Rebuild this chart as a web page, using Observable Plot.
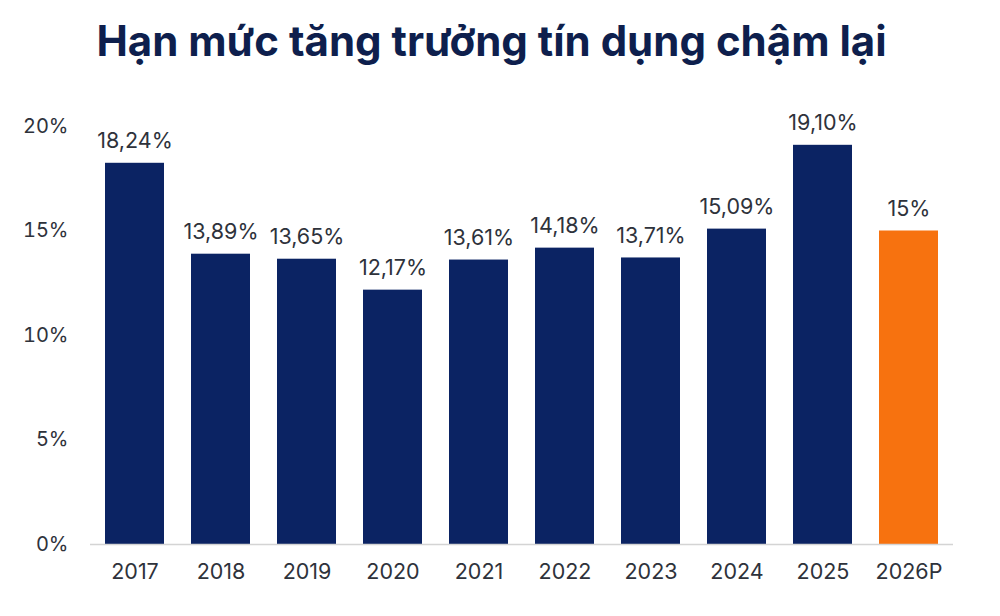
<!DOCTYPE html>
<html>
<head>
<meta charset="utf-8">
<script src="https://cdn.jsdelivr.net/npm/d3@7"></script>
<script src="https://cdn.jsdelivr.net/npm/@observablehq/plot@0.6"></script>
<style>
  html, body { margin: 0; padding: 0; background: #ffffff; }
  body { width: 1000px; height: 616px; overflow: hidden; font-family: Inter, "Noto Sans", sans-serif; }
  #title { height: 90px; box-sizing: border-box; padding-top: 16px; padding-right: 17px; text-align: center; font-size: 42px; font-weight: 700; color: #0e1f4d; line-height: 50px; white-space: nowrap; }
</style>
</head>
<body>
<div id="title">Hạn mức tăng trưởng tín dụng chậm lại</div>
<div id="chart"></div>
<script>
const years = ["2017", "2018", "2019", "2020", "2021", "2022", "2023", "2024", "2025", "2026P"];
const values = [18.24, 13.89, 13.65, 12.17, 13.61, 14.18, 13.71, 15.09, 19.10, 15];
const valueLabels = ["18,24%", "13,89%", "13,65%", "12,17%", "13,61%", "14,18%", "13,71%", "15,09%", "19,10%", "15%"];
const kinds = ["Thực hiện", "Thực hiện", "Thực hiện", "Thực hiện", "Thực hiện", "Thực hiện", "Thực hiện", "Thực hiện", "Thực hiện", "Kế hoạch"];
const yTicks = [0, 5, 10, 15, 20];

const data = years.map((y, i) => ({ year: y, value: values[i], label: valueLabels[i], kind: kinds[i] }));

const chart = Plot.plot({
  width: 1000,
  height: 516,
  marginTop: 36,
  marginBottom: 62,
  marginLeft: 90,
  marginRight: 47,
  style: { fontFamily: "Inter, 'Noto Sans', sans-serif", fontSize: "20px", color: "#2e323b", background: "#ffffff" },
  x: { domain: years, paddingInner: 0.31, paddingOuter: 0.155, label: null },
  y: { domain: [0, 20], label: null },
  color: { domain: ["Thực hiện", "Kế hoạch"], range: ["#0b2363", "#f7720f"] },
  marks: [
    Plot.axisY({ ticks: yTicks, tickFormat: d => d + "%", tickSize: 0, tickPadding: 22, fontSize: 20, fill: "#2e323b", label: null }),
    Plot.axisX({ tickSize: 0, tickPadding: 19, fontSize: 21.5, fill: "#2e323b", label: null }),
    Plot.barY(data, { x: "year", y: "value", fill: "kind" }),
    Plot.ruleY([0], { stroke: "#d4d4d4", strokeWidth: 1.5 }),
    Plot.text(data, { x: "year", y: "value", text: "label", dy: -22, fill: "#2e323b", fontSize: 21.5 })
  ]
});
document.getElementById("chart").appendChild(chart);
</script>
</body>
</html>
